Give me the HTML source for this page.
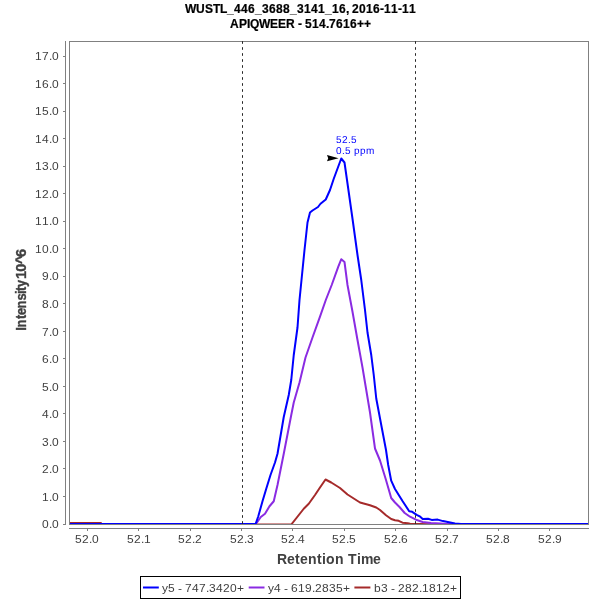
<!DOCTYPE html>
<html><head><meta charset="utf-8"><title>Chromatogram</title>
<style>
html,body{margin:0;padding:0;background:#fff;}
svg{display:block;font-family:"Liberation Sans",Arial,Helvetica,sans-serif;}
.tk{font-size:12px;fill:#404040;}
.ax{stroke:#808080;stroke-width:1;shape-rendering:crispEdges;fill:none;}
.ttl{font-size:12px;font-weight:bold;fill:#000;stroke:#000;stroke-width:0.2;}
.lbl{font-size:14px;font-weight:bold;fill:#404040;}
.ann{font-size:10px;fill:#0000ff;text-rendering:geometricPrecision;}
.ln{fill:none;stroke-width:2;stroke-linejoin:round;stroke-linecap:butt;}
</style></head><body>
<svg width="600" height="600" viewBox="0 0 600 600">
<rect width="600" height="600" fill="#fff"/>
<text class="ttl" transform="translate(0,12.8) scale(1,1)" x="185 196 205 213 220 227 234 241 248 255 262 269 276 283 290 297 304 311 318 325 332 339 346 349 352 359 366 373 380 384 391 398 402 409" y="0">WUSTL_446_3688_3141_16, 2016-11-11</text>
<text class="ttl" transform="translate(0,27.8) scale(1,1)" x="230 239 247 250 259 270 278 286 295 298 302 305 312 319 326 329 336 343 350 357 364" y="0">APIQWEER - 514.7616++</text>
<line class="ax" x1="65.5" y1="41" x2="65.5" y2="525"/>
<line class="ax" x1="69" y1="528.5" x2="589" y2="528.5"/>
<line class="ax" x1="63" y1="524.5" x2="65" y2="524.5"/>
<text class="tk" transform="translate(0,528) scale(1,0.93)" x="42 49 52" y="0">0.0</text>
<line class="ax" x1="63" y1="496.5" x2="65" y2="496.5"/>
<text class="tk" transform="translate(0,501) scale(1,0.93)" x="42 49 52" y="0">1.0</text>
<line class="ax" x1="63" y1="468.5" x2="65" y2="468.5"/>
<text class="tk" transform="translate(0,473) scale(1,0.93)" x="42 49 52" y="0">2.0</text>
<line class="ax" x1="63" y1="441.5" x2="65" y2="441.5"/>
<text class="tk" transform="translate(0,446) scale(1,0.93)" x="42 49 52" y="0">3.0</text>
<line class="ax" x1="63" y1="413.5" x2="65" y2="413.5"/>
<text class="tk" transform="translate(0,418) scale(1,0.93)" x="42 49 52" y="0">4.0</text>
<line class="ax" x1="63" y1="386.5" x2="65" y2="386.5"/>
<text class="tk" transform="translate(0,391) scale(1,0.93)" x="42 49 52" y="0">5.0</text>
<line class="ax" x1="63" y1="358.5" x2="65" y2="358.5"/>
<text class="tk" transform="translate(0,363) scale(1,0.93)" x="42 49 52" y="0">6.0</text>
<line class="ax" x1="63" y1="331.5" x2="65" y2="331.5"/>
<text class="tk" transform="translate(0,336) scale(1,0.93)" x="42 49 52" y="0">7.0</text>
<line class="ax" x1="63" y1="303.5" x2="65" y2="303.5"/>
<text class="tk" transform="translate(0,308) scale(1,0.93)" x="42 49 52" y="0">8.0</text>
<line class="ax" x1="63" y1="276.5" x2="65" y2="276.5"/>
<text class="tk" transform="translate(0,280) scale(1,0.93)" x="42 49 52" y="0">9.0</text>
<line class="ax" x1="63" y1="248.5" x2="65" y2="248.5"/>
<text class="tk" transform="translate(0,253) scale(1,0.93)" x="35 42 49 52" y="0">10.0</text>
<line class="ax" x1="63" y1="221.5" x2="65" y2="221.5"/>
<text class="tk" transform="translate(0,225) scale(1,0.93)" x="35 42 49 52" y="0">11.0</text>
<line class="ax" x1="63" y1="193.5" x2="65" y2="193.5"/>
<text class="tk" transform="translate(0,198) scale(1,0.93)" x="35 42 49 52" y="0">12.0</text>
<line class="ax" x1="63" y1="166.5" x2="65" y2="166.5"/>
<text class="tk" transform="translate(0,170) scale(1,0.93)" x="35 42 49 52" y="0">13.0</text>
<line class="ax" x1="63" y1="138.5" x2="65" y2="138.5"/>
<text class="tk" transform="translate(0,143) scale(1,0.93)" x="35 42 49 52" y="0">14.0</text>
<line class="ax" x1="63" y1="111.5" x2="65" y2="111.5"/>
<text class="tk" transform="translate(0,115) scale(1,0.93)" x="35 42 49 52" y="0">15.0</text>
<line class="ax" x1="63" y1="83.5" x2="65" y2="83.5"/>
<text class="tk" transform="translate(0,88) scale(1,0.93)" x="35 42 49 52" y="0">16.0</text>
<line class="ax" x1="63" y1="56.5" x2="65" y2="56.5"/>
<text class="tk" transform="translate(0,60) scale(1,0.93)" x="35 42 49 52" y="0">17.0</text>
<line class="ax" x1="87.5" y1="528" x2="87.5" y2="531"/>
<text class="tk" transform="translate(0,543) scale(1,0.93)" x="75 82 89 92" y="0">52.0</text>
<line class="ax" x1="138.5" y1="528" x2="138.5" y2="531"/>
<text class="tk" transform="translate(0,543) scale(1,0.93)" x="127 134 141 144" y="0">52.1</text>
<line class="ax" x1="190.5" y1="528" x2="190.5" y2="531"/>
<text class="tk" transform="translate(0,543) scale(1,0.93)" x="178 185 192 195" y="0">52.2</text>
<line class="ax" x1="241.5" y1="528" x2="241.5" y2="531"/>
<text class="tk" transform="translate(0,543) scale(1,0.93)" x="230 237 244 247" y="0">52.3</text>
<line class="ax" x1="292.5" y1="528" x2="292.5" y2="531"/>
<text class="tk" transform="translate(0,543) scale(1,0.93)" x="281 288 295 298" y="0">52.4</text>
<line class="ax" x1="344.5" y1="528" x2="344.5" y2="531"/>
<text class="tk" transform="translate(0,543) scale(1,0.93)" x="332 339 346 349" y="0">52.5</text>
<line class="ax" x1="395.5" y1="528" x2="395.5" y2="531"/>
<text class="tk" transform="translate(0,543) scale(1,0.93)" x="384 391 398 401" y="0">52.6</text>
<line class="ax" x1="447.5" y1="528" x2="447.5" y2="531"/>
<text class="tk" transform="translate(0,543) scale(1,0.93)" x="435 442 449 452" y="0">52.7</text>
<line class="ax" x1="498.5" y1="528" x2="498.5" y2="531"/>
<text class="tk" transform="translate(0,543) scale(1,0.93)" x="486 493 500 503" y="0">52.8</text>
<line class="ax" x1="549.5" y1="528" x2="549.5" y2="531"/>
<text class="tk" transform="translate(0,543) scale(1,0.93)" x="538 545 552 555" y="0">52.9</text>
<clipPath id="cp"><rect x="69" y="41" width="520" height="483"/></clipPath><g clip-path="url(#cp)">
<polyline class="ln" stroke="#a52a2a" points="69,523 101,523 101.5,524.5 291.25,524.5 303.75,508.75 308.75,503.75 315,495 320,487.5 325.5,479.5 331.25,482.5 340,488 347.5,494.5 360,502.5 370,505.25 376.25,507.5 380,510 386,515.2 391.2,519 395,520.2 398.7,520.8 402.5,522.7 407.7,523.2 410,523.8 440,524.5 588,524.5"/>
<polyline class="ln" stroke="#8a2be2" points="69,524 255.6,524 257,522.5 260.8,517 265,513.75 269.5,506.25 273.75,501.25 277.5,485 283.75,453.75 291.25,415 293.75,402.5 299.5,382.5 305.5,357.5 312.5,337.5 320,316.7 325.8,300 331.7,285 338.3,266.7 341.3,259.2 344.5,262 347.5,285 352.5,311.7 357.5,340 362.5,367.5 366.25,390 370,412.5 375,448.5 380,460.5 386,480 391.2,498 395,502.5 399.5,507 404.7,513 410,516.7 416,519.7 422.7,522 431,523 440,523.5 447.5,524 588,524"/>
<polyline class="ln" stroke="#0000ff" points="69,524 255.6,524 258.3,516.25 262.5,501.25 266.25,488.75 270.5,475 275,462.5 277.5,453.75 283.75,417 288.75,395 291.25,380 293.75,355 297.5,327.5 299.5,300 301.5,280 304.5,250 307.5,222.5 310,212.5 312.5,210.5 318,207 320.5,203.75 325.75,199.5 330,190 333.75,178.75 341.25,158.5 344.5,162.5 347,180 352.5,218.75 357.5,255 361.25,280 365,310 367.5,332.5 371.25,355 373.75,375 376.25,398.5 381.25,425 386,450 388.2,465 391.2,480.7 395,489 402.5,501 409.2,511.2 412.2,511.8 416.7,514.8 419.7,516.3 422.7,519 428,518.7 431.7,519.9 437.7,519.6 443,521.1 449,522.3 455,523.5 461,524 588,524"/>
</g>
<rect class="ax" x="69.5" y="41.5" width="519" height="483"/>
<line x1="242.5" y1="41.2" x2="242.5" y2="524" stroke="#262626" stroke-width="1" stroke-dasharray="2.6,3.4"/>
<line x1="415.5" y1="41.2" x2="415.5" y2="524" stroke="#262626" stroke-width="1" stroke-dasharray="2.6,3.4"/>
<polygon points="327,155.1 338.6,158.2 327,161.3 328.2,158.2" fill="#000"/>
<text class="ann" transform="translate(0,143) scale(1,1)" x="336 342 348 351" y="0">52.5</text>
<text class="ann" transform="translate(0,154) scale(1,1)" x="336 342 345 351 354 360 366" y="0">0.5 ppm</text>
<text class="lbl" transform="translate(0,564) scale(1,1)" x="277 287 295 300 308 317 322 326 335 344 348 357 361 373" y="0">Retention Time</text>
<g transform="translate(25.7,331) rotate(-90)" stroke="#404040" stroke-width="0.35">
<text class="lbl" transform="scale(0.92,1)" x="0.15 3.70 12.98 17.50 24.51 33.15 40.22 43.41 47.93" y="0">Intensity</text>
<text class="lbl" style="font-size:14.5px" x="52.10 59.30 67.10 74.00" y="0">10^6</text>
</g>
<rect x="140.5" y="576.5" width="320" height="22" fill="#fff" stroke="#000" stroke-width="1" shape-rendering="crispEdges"/>
<line x1="143" y1="587.5" x2="158.8" y2="587.5" stroke="#0000ff" stroke-width="2"/>
<text class="tk" transform="translate(0,592) scale(1,0.93)" x="162 168 175 178 182 185 192 199 206 209 216 223 230 237" y="0">y5 - 747.3420+</text>
<line x1="248.7" y1="587.5" x2="264.5" y2="587.5" stroke="#8a2be2" stroke-width="2"/>
<text class="tk" transform="translate(0,592) scale(1,0.93)" x="268 274 281 284 288 291 298 305 312 315 322 329 336 343" y="0">y4 - 619.2835+</text>
<line x1="354.4" y1="587.5" x2="370.4" y2="587.5" stroke="#a52a2a" stroke-width="2"/>
<text class="tk" transform="translate(0,592) scale(1,0.93)" x="374 381 388 391 395 398 405 412 419 422 429 436 443 450" y="0">b3 - 282.1812+</text>
</svg>
</body></html>
